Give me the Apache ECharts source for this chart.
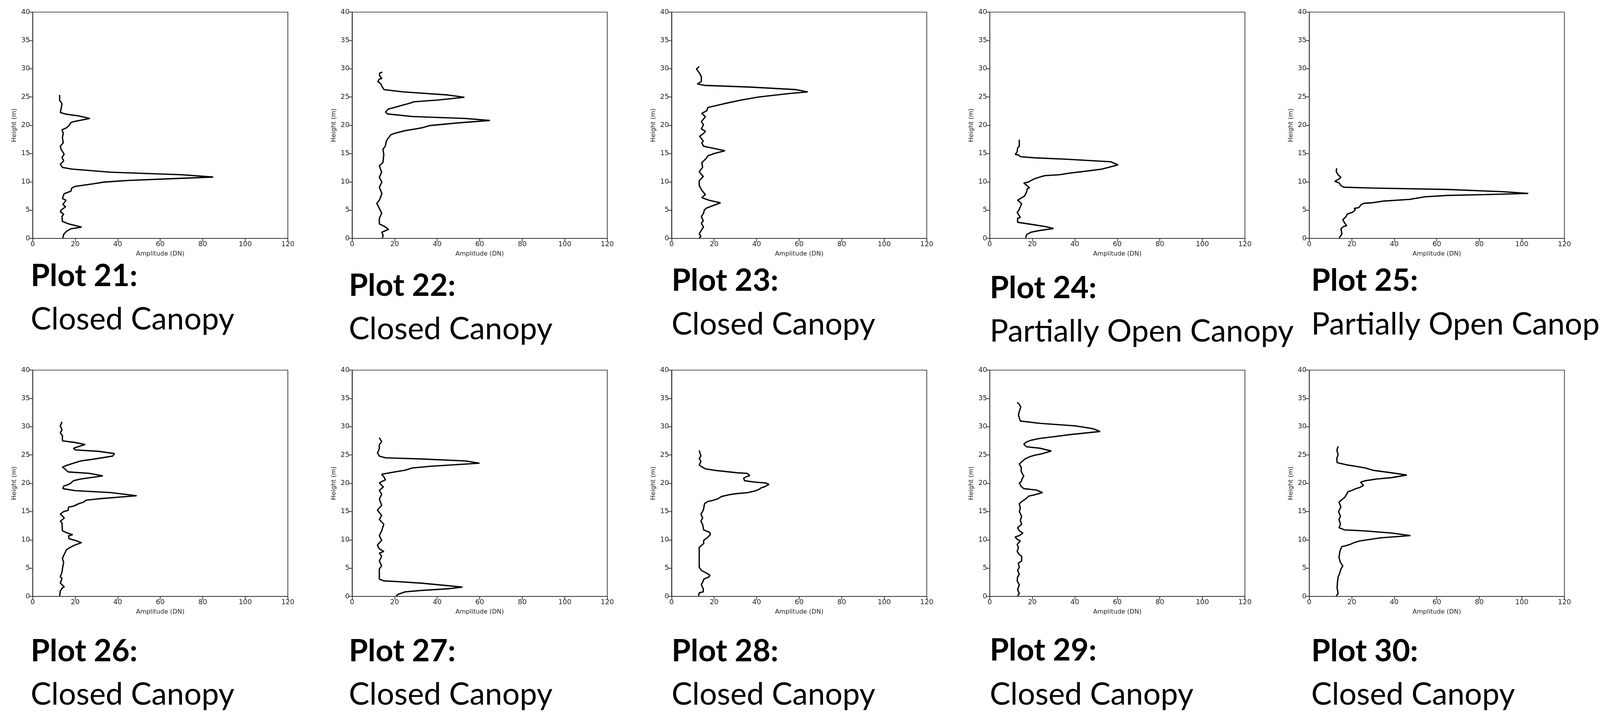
<!DOCTYPE html>
<html>
<head>
<meta charset="utf-8">
<script src="https://cdn.jsdelivr.net/npm/echarts@6/dist/echarts.min.js"></script>
<style>
  html, body { margin: 0; padding: 0; background: #fff; overflow: hidden; }
  #main { width: 100vw; height: 100vh; }
</style>
</head>
<body>
<div id="main"></div>
<script>
// each profile: [amplitude (DN), height (m)], from the ground up
const plot21 = [[14.2,0.1],[14.6,0.7],[15.9,1.25],[18,1.7],[23,2.0],[19.2,2.35],[17.1,2.55],[14,3.0],[13.8,3.85],[14.6,4.3],[13,4.7],[13.4,5.0],[15.5,5.6],[14.2,6.0],[15.7,6.75],[14,7.05],[14.8,7.9],[18,8.35],[18.4,8.9],[20,9.2],[28.4,9.65],[33.4,9.95],[39.3,10.1],[45.2,10.25],[61.9,10.5],[84.9,10.85],[70.2,11.25],[36.8,11.7],[18.4,12.25],[14,12.55],[13,13.1],[14.6,13.7],[13.8,14.3],[14.8,14.9],[13.4,15.75],[13,16.3],[14.4,16.9],[14,17.8],[14.4,18.6],[13.8,19.2],[15.7,19.5],[17.1,19.95],[18,20.5],[20,20.7],[26.9,21.2],[21.7,21.65],[15.9,21.95],[13,22.25],[13.4,22.95],[13.8,23.8],[12.7,24.4],[12.7,25.35]];
const plot22 = [[14.2,0.1],[14.6,0.5],[14,1.1],[17.1,1.6],[15.4,2.1],[12.8,2.55],[12.8,3.55],[13.9,4.45],[12.8,5.3],[11.6,6.2],[12.8,6.75],[14,7.9],[12.8,9.05],[14,9.95],[12.8,10.8],[13.9,11.7],[12.8,12.85],[14.5,13.4],[14.9,14.85],[14.5,15.75],[15.6,16.3],[16.1,17.2],[17,17.75],[18.3,18.35],[20.7,18.65],[24.9,19.05],[29.9,19.35],[32.8,19.55],[36.6,19.95],[49.1,20.4],[64.8,20.85],[53.3,21.2],[28.3,21.55],[16.6,22],[15.7,22.35],[17,22.85],[19.9,23.15],[23.7,23.55],[26.6,23.85],[29.1,24.15],[40,24.45],[52.8,24.95],[45,25.35],[24.2,25.9],[15,26.3],[14,26.9],[13.4,27.35],[12.1,27.75],[12.9,28.2],[14,28.25],[12.9,28.8],[12.9,29.2],[14.2,29.4]];
const plot23 = [[13,0.1],[13.8,0.4],[13,0.8],[14.2,1.55],[15,2.0],[14,2.7],[14.9,3.1],[14,3.85],[15,4.45],[15.4,5.0],[16.3,5.35],[23,6.3],[17.6,6.75],[14.2,7.2],[15.9,7.75],[14.2,8.5],[13,9.35],[13,10.2],[14.9,10.95],[13.8,11.4],[13,11.8],[14.6,12.55],[14.2,13.4],[16.3,14.15],[17.1,14.6],[20,15.0],[25.1,15.5],[20,15.9],[15,16.3],[14.2,16.9],[14.9,17.2],[13.2,18.05],[14.9,18.5],[15.9,18.95],[14,19.35],[15,20.1],[14,20.65],[15.9,21.5],[14.2,22.1],[16.5,22.55],[17.1,23.15],[20,23.4],[25.1,23.85],[32.6,24.45],[41,25.0],[55.2,25.6],[64,25.9],[58.5,26.3],[36.8,26.75],[15.5,27.05],[12.1,27.3],[14,27.75],[14,28.5],[13.4,29.05],[11.7,29.95],[13,30.4]];
const plot24 = [[16.9,0.1],[17.3,0.65],[19.4,1.1],[23.5,1.4],[30,1.75],[26,2.1],[21,2.4],[13.1,2.85],[13.1,3.55],[14.4,3.7],[12.9,4.6],[13.7,5.0],[14.4,5.6],[15,6.15],[13.1,6.75],[14.4,7.05],[16.4,7.5],[17.3,8.2],[17.7,8.8],[18.7,8.95],[17.5,9.35],[16,9.8],[18.1,9.95],[20.2,10.4],[21.9,10.65],[24.4,10.95],[26,11.1],[32.7,11.25],[37.7,11.55],[44.4,11.85],[52.8,12.25],[60.3,13.0],[56.9,13.55],[36,14.0],[21,14.25],[14.4,14.45],[13.5,14.75],[12,14.85],[12.9,15.3],[13.1,16.0],[13.9,16.3],[13.9,16.85],[13.9,17.45]];
const plot25 = [[14.1,0.1],[14.7,0.4],[15.4,0.8],[14.9,1.7],[16.1,2.1],[17.6,2.25],[16.7,2.7],[15.8,3.3],[17.3,3.85],[17.9,4.3],[18.9,4.45],[20.3,4.6],[21.6,5.0],[21.2,5.3],[23.4,5.45],[24.2,5.9],[25.6,6.2],[29.6,6.3],[34.9,6.6],[47.3,6.9],[54.3,7.35],[65,7.6],[82.7,7.75],[103,7.95],[91.5,8.25],[65,8.65],[29.6,8.9],[16.3,9.05],[14.9,9.35],[14.1,9.8],[12,10.1],[13.6,10.4],[14.9,10.8],[13.6,11.25],[12.7,11.85],[12.9,12.4]];
const plot26 = [[12.7,0.1],[13,0.95],[14,1.5],[14.9,1.7],[13,2.35],[13.8,3.2],[13,3.45],[13.8,4.3],[14.2,5.3],[14.6,6.0],[14,6.7],[14.8,7.4],[15.9,8.25],[17.6,8.65],[20,9.1],[23,9.5],[20,9.9],[17.1,10.2],[16.9,10.7],[18.8,10.9],[16.3,11.2],[14,11.6],[13.8,13.0],[13,13.3],[14.9,13.85],[13.8,14.3],[13,14.55],[14.6,15.0],[16.7,15.2],[16.9,15.8],[19.2,15.95],[21.7,16.4],[23.9,16.65],[25.1,17.0],[30.9,17.25],[48.9,17.8],[36.8,18.35],[20,18.7],[14.2,19.05],[14.6,19.5],[16.7,19.75],[18,20.05],[19.2,20.45],[22.6,20.75],[33,21.3],[26.7,21.75],[16.7,22],[15.1,22.55],[14,22.85],[15.9,23.15],[19.2,23.55],[22.6,23.95],[28.4,24.25],[37.6,24.8],[38.5,25.25],[30.9,25.65],[20,25.9],[19.2,26.2],[21.7,26.5],[24.7,26.85],[20,27.2],[14,27.5],[14,28.45],[13,28.9],[13.8,29.45],[13,30.15],[13.8,30.85]];
const plot27 = [[20.7,0.1],[21.6,0.35],[23.7,0.65],[24.9,0.8],[32.4,1.05],[45,1.35],[51.9,1.65],[45,1.9],[32.4,2.35],[19.9,2.65],[14.9,2.75],[12.8,3.05],[12.8,4.85],[13.9,5.4],[12.8,6.25],[13.9,7.1],[12.8,7.65],[14.9,7.95],[12.8,8.4],[11.9,9.1],[13.9,9.9],[12.8,10.75],[13.9,11.6],[14.9,12.75],[12.8,13.6],[13.9,14.3],[11.9,15.25],[13.9,16.1],[12.8,17.2],[13.9,18.05],[12.8,18.75],[14.7,19.35],[12.8,20.05],[13.9,20.3],[15.7,20.6],[14.9,21.15],[13.9,21.6],[19.9,22],[24.9,22.3],[28.3,22.7],[36.6,23],[59.9,23.55],[53.3,23.95],[32.4,24.3],[15.7,24.5],[12.8,24.8],[11.9,25.4],[12.4,25.7],[12.8,26.2],[12.8,26.8],[13.9,27.35],[12.8,28.05]];
const plot28 = [[12.7,0.1],[13,0.65],[14.9,0.8],[14.9,1.35],[14,2.05],[15.1,2.9],[15.1,3.05],[17.6,3.45],[18,3.75],[16.3,4.15],[14,4.6],[13,5.15],[13,8.65],[13.8,8.95],[15.1,9.35],[15.1,9.9],[16.7,10.35],[18.2,10.9],[18,11.3],[15.1,11.75],[14.6,12.7],[13.8,13.3],[14.6,13.85],[13.8,14.55],[14.6,15],[15.1,15.55],[15.5,16.4],[17.1,16.8],[19.2,16.95],[21.7,17.25],[23.4,17.65],[26.8,17.95],[30.1,18.15],[35.9,18.35],[39.3,18.65],[41,18.9],[42.2,19.2],[43.5,19.35],[45.8,19.8],[44.3,20.05],[39.3,20.2],[34.3,20.45],[33.9,20.9],[35.1,21.15],[36.8,21.35],[35.5,21.75],[31,21.85],[20,22.3],[15.9,22.55],[13.8,23],[13,23.25],[13.8,23.85],[13,24.4],[13.8,24.8],[13,25.8]];
const plot29 = [[13.1,0.1],[13.9,0.5],[13.1,1.2],[13.9,2.05],[12.9,2.75],[13.1,3.45],[13.9,3.9],[13.1,4.6],[13.9,5.15],[13.4,5.85],[13.9,6.0],[15,6.25],[15,7.1],[13.9,7.4],[12.9,7.95],[13.5,8.65],[12.9,9.2],[14.4,9.8],[13.1,10.05],[11.9,10.5],[13.9,10.75],[15.6,11.2],[13.9,11.6],[13.1,12.15],[15,12.75],[14.4,13.45],[15,14.15],[13.9,15],[14.4,15.55],[13.9,16.4],[15.2,16.8],[16.9,17.25],[18.5,17.75],[21,17.95],[24.8,18.35],[22,18.8],[16,19.05],[14.8,19.45],[13.9,20.05],[14.8,20.3],[15.2,20.75],[16,21.3],[15.2,21.75],[14.8,22.15],[14.8,22.85],[13.9,23.4],[15.2,23.85],[16.4,24.25],[18.5,24.65],[21,24.95],[24.4,25.2],[29,25.7],[23.5,26.2],[17.3,26.45],[16,26.9],[17.3,27.3],[19.4,27.6],[23.1,27.9],[29.4,28.2],[37.7,28.6],[51.9,29.15],[48.6,29.65],[40.2,30.15],[23.5,30.6],[14.4,31.0],[13.9,31.55],[13.5,32.1],[13.9,32.7],[14.6,33.5],[13.9,33.95],[12.9,34.3]];
const plot30 = [[12.7,0.1],[13.6,0.5],[13.1,1.5],[13.3,2.6],[13.6,3.45],[14.4,4.15],[14.9,4.85],[15.8,5.4],[14.7,6.0],[14,6.85],[14.4,7.95],[15.3,8.8],[17.1,8.95],[19.3,9.2],[21.1,9.5],[23.7,9.8],[33.5,10.35],[47.6,10.75],[38.8,11.2],[25.5,11.6],[16.7,11.75],[14,12.15],[14.7,12.75],[14,13.6],[14.7,14.15],[13.8,15],[14.9,15.8],[14,16.65],[15.3,17.1],[16.7,17.5],[17.6,18.05],[18.2,18.5],[20.2,18.75],[21.9,19.05],[23.7,19.25],[25.5,19.6],[24.2,20.2],[26.4,20.45],[31.7,20.75],[38.8,21.0],[45.9,21.45],[38.8,21.85],[29.9,22.3],[26.4,22.7],[21.1,23.05],[17.6,23.25],[13.1,23.65],[13,24.4],[13.6,25.1],[13,25.8],[13.6,26.55]];

const profiles = [plot21, plot22, plot23, plot24, plot25, plot26, plot27, plot28, plot29, plot30];
const plotNames = ['Plot 21:', 'Plot 22:', 'Plot 23:', 'Plot 24:', 'Plot 25:', 'Plot 26:', 'Plot 27:', 'Plot 28:', 'Plot 29:', 'Plot 30:'];
const canopyTypes = ['Closed Canopy', 'Closed Canopy', 'Closed Canopy', 'Partially Open Canopy', 'Partially Open Canopy',
  'Closed Canopy', 'Closed Canopy', 'Closed Canopy', 'Closed Canopy', 'Closed Canopy'];

// layout in reference pixels (4853 x 1855), scaled to the actual window
const W = window.innerWidth || 4853, H = window.innerHeight || 1855;
const sx = W / 4853, sy = H / 1855, sf = Math.min(sx, sy);
const colLeft = [99, 1068, 2037, 3002, 3971];
const rowTop = [31, 947];
const plotW = 774, plotH = 579;
const titleLeft = [93, 1058, 2037, 3002, 3977];
const titleTop = [[667, 692, 679, 698, 679], [1627, 1627, 1627, 1625, 1627]];
const subTop = [[778, 803, 791, 809, 791], [1738, 1738, 1738, 1738, 1738]];

const axisFont = { fontFamily: 'DejaVu Sans', fontSize: 21 * sf, color: '#222' };
const nameFont = { fontFamily: 'DejaVu Sans', fontSize: 19 * sf, color: '#222' };

let grid = [], xAxis = [], yAxis = [], series = [], graphic = [];
profiles.forEach((p, i) => {
  const r = Math.floor(i / 5), c = i % 5;
  grid.push({ left: colLeft[c] * sx, top: rowTop[r] * sy, width: plotW * sx, height: plotH * sy,
    show: true, borderColor: '#222', borderWidth: 2 * sf, backgroundColor: '#fff' });
  xAxis.push({
    type: 'value', gridIndex: i, min: 0, max: 120, interval: 20,
    name: 'Amplitude (DN)', nameLocation: 'middle', nameGap: 38 * sf, nameTextStyle: nameFont,
    axisLine: { show: true, onZero: false, lineStyle: { color: '#222', width: 2 * sf } },
    axisTick: { show: true, length: 10 * sf, lineStyle: { color: '#222', width: 2 * sf } },
    axisLabel: Object.assign({ margin: 8 * sf }, axisFont),
    splitLine: { show: false }
  });
  yAxis.push({
    type: 'value', gridIndex: i, min: 0, max: 40, interval: 5,
    name: 'Height (m)', nameLocation: 'middle', nameGap: 46 * sf, nameTextStyle: nameFont,
    axisLine: { show: true, onZero: false, lineStyle: { color: '#222', width: 2 * sf } },
    axisTick: { show: true, length: 10 * sf, lineStyle: { color: '#222', width: 2 * sf } },
    axisLabel: Object.assign({ margin: 8 * sf }, axisFont),
    splitLine: { show: false }
  });
  series.push({
    type: 'line', xAxisIndex: i, yAxisIndex: i, data: p,
    showSymbol: false, smooth: false, animation: false,
    lineStyle: { color: '#000', width: 4 * sf }
  });
  graphic.push({
    type: 'text', left: titleLeft[c] * sx, top: titleTop[r][c] * sy,
    style: { text: plotNames[i], font: 'bold ' + Math.round(94 * sf) + 'px Lato', fill: '#000' }
  });
  graphic.push({
    type: 'text', left: titleLeft[c] * sx, top: subTop[r][c] * sy,
    style: { text: canopyTypes[i], font: Math.round(94 * sf) + 'px Lato', fill: '#000' }
  });
});

const myChart = echarts.init(document.getElementById('main'));
myChart.setOption({
  backgroundColor: '#fff',
  animation: false,
  grid: grid,
  xAxis: xAxis,
  yAxis: yAxis,
  series: series,
  graphic: graphic
});
</script>
</body>
</html>
